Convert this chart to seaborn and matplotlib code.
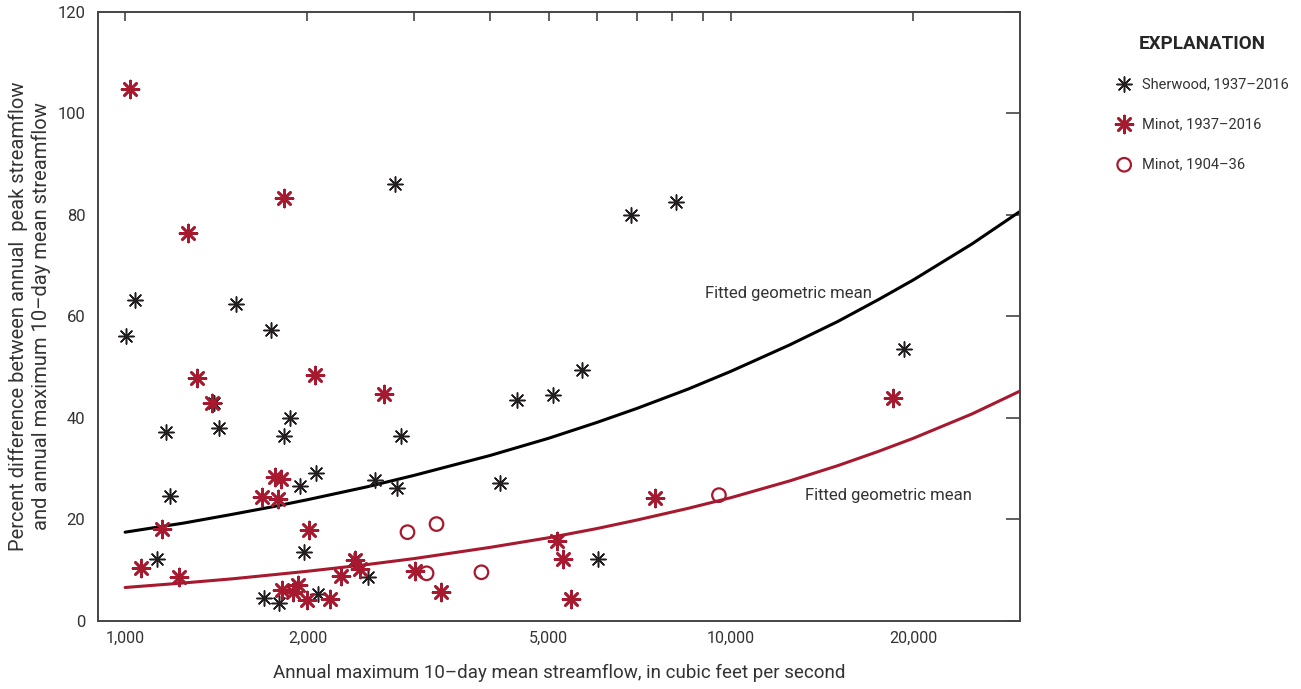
import numpy as np
import pandas as pd
import matplotlib.pyplot as plt
import matplotlib.ticker as mticker
import seaborn as sns

# Sherwood, 1937-2016
sherwood_flow = [1004, 1039, 1129, 1168, 1186, 1402, 1428, 1523, 1694, 1740, 1794,
                 1828, 1870, 1942, 1972, 2064, 2080, 2384, 2514, 2582, 2785, 2806,
                 2859, 4163, 4440, 5090, 5680, 6040, 6843, 8119, 19300]
sherwood_pct = [56.1, 63.2, 12.2, 37.2, 24.6, 42.9, 38.0, 62.4, 4.5, 57.3, 3.5,
                36.4, 40.0, 26.6, 13.6, 29.1, 5.3, 12.0, 8.7, 27.8, 86.2, 26.2,
                36.4, 27.2, 43.5, 44.5, 49.4, 12.2, 79.9, 82.5, 53.5]

# Minot, 1937-2016
minot_flow = [1019, 1063, 1151, 1227, 1270, 1314, 1391, 1681, 1770, 1787, 1810,
              1812, 1828, 1891, 1928, 1994, 2010, 2056, 2177, 2269, 2400, 2440,
              2671, 3004, 3316, 5168, 5288, 5450, 7497, 18490]
minot_pct = [104.9, 10.4, 18.1, 8.7, 76.4, 47.8, 42.9, 24.4, 28.3, 24.0, 28.0,
             6.1, 83.3, 5.7, 7.1, 4.1, 17.9, 48.4, 4.3, 8.9, 12.0, 10.2,
             44.7, 9.8, 5.7, 15.7, 12.2, 4.3, 24.2, 44.0]

# Minot, 1904-36
minot_old_flow = [2925, 3145, 3266, 3874, 9555]
minot_old_pct = [17.5, 9.4, 19.1, 9.6, 24.8]

# fitted geometric mean curves
fit_flow = [1000, 1250, 1500, 1750, 2000, 2500, 3000, 4000, 5000, 6000, 7000,
            8500, 10000, 12500, 15000, 17500, 20000, 25000, 30000]
sherwood_fit = [17.5, 19.3, 21.0, 22.5, 23.9, 26.4, 28.7, 32.6, 36.0, 39.1, 41.9,
                45.7, 49.2, 54.4, 59.0, 63.3, 67.2, 74.3, 80.7]
minot_fit = [6.6, 7.5, 8.3, 9.1, 9.8, 11.1, 12.3, 14.5, 16.4, 18.2, 19.9,
             22.2, 24.3, 27.6, 30.6, 33.4, 36.0, 40.8, 45.3]

major_x = [1000, 2000, 5000, 10000, 20000]
minor_x = [3000, 4000, 6000, 7000, 8000, 9000]

red = "#A6192E"
ink = "#231F20"
txt = "#333333"

sns.set_theme(style="white")
plt.rcParams["font.family"] = ["Roboto", "DejaVu Sans"]

fig = plt.figure(figsize=(13.01, 6.89), dpi=100)
ax = fig.add_axes([0.0753, 0.0987, 0.7087, 0.8839])

df_fit = pd.DataFrame({"flow": fit_flow + fit_flow,
                       "pct": sherwood_fit + minot_fit,
                       "curve": ["Sherwood"] * len(fit_flow) + ["Minot"] * len(fit_flow)})
sns.lineplot(data=df_fit, x="flow", y="pct", hue="curve",
             palette={"Sherwood": "black", "Minot": red},
             linewidth=2.2, legend=False, ax=ax)

star = (8, 2, 0)
sns.scatterplot(x=sherwood_flow, y=sherwood_pct, marker=star, s=120, color=ink,
                linewidth=1.1, ax=ax, label="Sherwood, 1937\u20132016", zorder=3)
sns.scatterplot(x=minot_flow, y=minot_pct, marker=star, s=150, color=red,
                linewidth=1.9, ax=ax, label="Minot, 1937\u20132016", zorder=3)
sns.scatterplot(x=minot_old_flow, y=minot_old_pct, marker="o", s=95,
                facecolor="none", edgecolor=red, linewidth=1.6, ax=ax,
                label="Minot, 1904\u201336", zorder=3)

ax.set_xscale("log")
ax.set_xlim(902, 30000)
ax.set_ylim(0, 120)
ax.xaxis.set_major_locator(mticker.FixedLocator(major_x))
ax.xaxis.set_minor_locator(mticker.FixedLocator(minor_x))
ax.xaxis.set_major_formatter(mticker.FuncFormatter(lambda v, p: f"{int(v):,}"))
ax.xaxis.set_minor_formatter(mticker.NullFormatter())
ax.set_yticks(range(0, 121, 20))

ax.tick_params(axis="x", which="both", direction="in", top=True, length=6.5,
               width=1.2, color="#444444", labelsize=11.5, labelcolor=txt, pad=7)
ax.tick_params(axis="y", which="both", direction="in", right=True, length=10,
               width=1.2, color="#444444", labelsize=12, labelcolor=txt, pad=9)
for sp in ax.spines.values():
    sp.set_visible(True)
    sp.set_color("#444444")
    sp.set_linewidth(1.4)

ax.set_xlabel("Annual maximum 10\u2013day mean streamflow, in cubic feet per second",
              fontsize=13.5, color=txt, labelpad=13)
ax.set_ylabel("Percent difference between annual  peak streamflow\n"
              "and annual maximum 10\u2013day mean streamflow",
              fontsize=14.5, color=txt, labelpad=5, linespacing=1.2)

ax.text(9060, 64.6, "Fitted geometric mean", fontsize=12, color=txt, va="center")
ax.text(13240, 24.8, "Fitted geometric mean", fontsize=12, color=txt, va="center")

leg = ax.legend(loc="upper left", bbox_to_anchor=(0.854, 0.957),
                bbox_transform=fig.transFigure, frameon=False,
                title="EXPLANATION", fontsize=10.5, labelspacing=1.8,
                handletextpad=0.7, handlelength=1.0, borderaxespad=0)
leg.get_title().set_fontweight("bold")
leg.get_title().set_fontsize(13.5)
leg._legend_box.sep = 17
for t in leg.get_texts():
    t.set_color(txt)

fig.savefig("out.png", dpi=100)
